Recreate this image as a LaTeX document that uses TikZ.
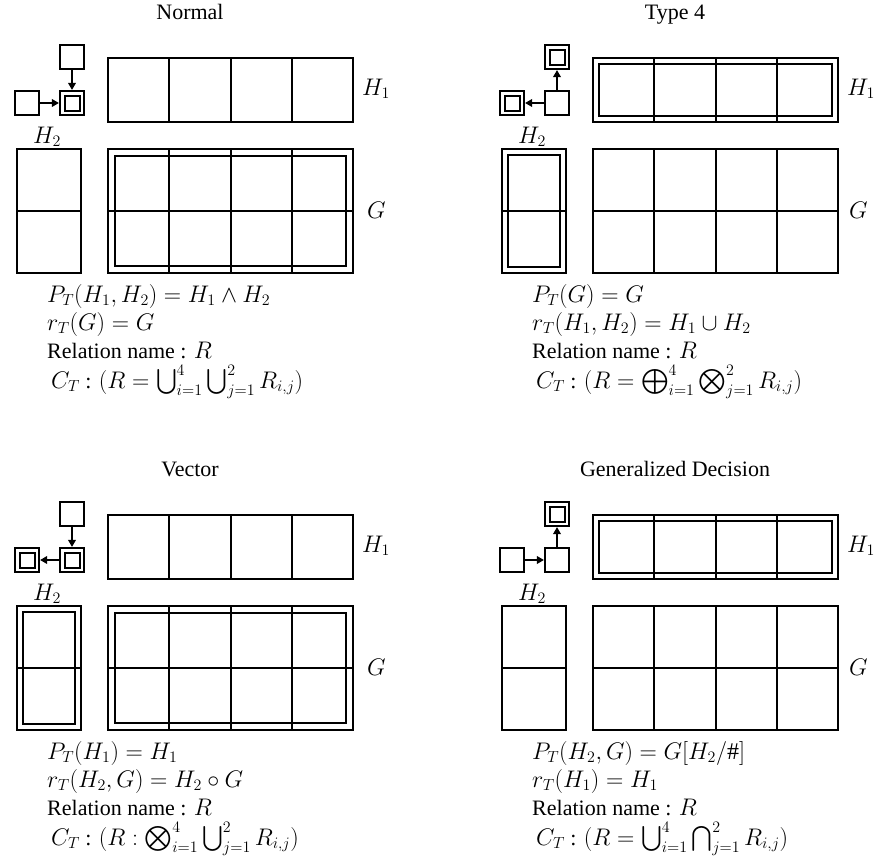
\documentclass[tikz,border=0pt]{standalone}
\usepackage{fix-cm}
\usepackage{amsmath}
\usepackage{exscale}
\usepackage{fontspec}
\setmainfont{Liberation Serif}
\DeclareMathSizes{22}{24}{16}{12}
\usetikzlibrary{arrows.meta}
\tikzset{
  ln/.style={line width=2.1pt},
  sq/.style={draw, line width=2.1pt, minimum width=24pt, minimum height=24pt, inner sep=0pt},
  isq/.style={draw, line width=2pt, minimum width=15pt, minimum height=15pt, inner sep=0pt},
  arr/.style={line width=2.1pt, -{Triangle[length=7pt,width=7.5pt]}},
  txt/.style={anchor=base west, inner sep=0pt, font=\fontsize{22}{26}\selectfont},
  ttl/.style={anchor=base, inner sep=0pt, font=\fontsize{22}{26}\selectfont},
}
\newcommand\mypanelgrid[3]{%
  \draw[ln] (108,58) rectangle (353,122);
  \foreach \xx in {169,231,292} {\draw[ln] (\xx,58) -- (\xx,122);}
  \ifnum#1=1 \draw[ln] (114,64) rectangle (347,116);\fi
  \draw[ln] (17,149) rectangle (81,273);
  \draw[ln] (17,211) -- (81,211);
  \ifnum#2=1 \draw[ln] (23,155) rectangle (75,267);\fi
  \draw[ln] (108,149) rectangle (353,273);
  \foreach \xx in {169,231,292} {\draw[ln] (\xx,149) -- (\xx,273);}
  \draw[ln] (108,211) -- (353,211);
  \ifnum#3=1 \draw[ln] (115,156) rectangle (346,266);\fi
}
\begin{document}
\begin{tikzpicture}[x=1pt,y=-1pt]
\useasboundingbox (0,0) rectangle (880,862);

% ---------- Normal ----------
\begin{scope}
  \node[ttl] (t1) at (190,19) {Normal};
  \mypanelgrid{0}{0}{1}
  \node[sq] (a1) at (72,57) {};
  \node[sq] (b1) at (72,103) {};
  \node[isq] (b1i) at (b1) {};
  \node[sq] (c1) at (27,103) {};
  \draw[arr] (a1) -- (b1);
  \draw[arr] (c1) -- (b1);
  \node[txt] (h1a) at (362,95) {$H_1$};
  \node[ttl] (h2a) at (47,143) {$H_2$};
  \node[txt] (ga) at (367,218) {$G$};
  \node[txt] (pa) at (47,302) {$P_T(H_1,H_2)=H_1\wedge H_2$};
  \node[txt] (ra) at (47,330) {$r_T(G)=G$};
  \node[txt] (na) at (47,358) {Relation name : $R$};
  \node[txt] (ca) at (51,388) {$C_T$ : $(R=\bigcup_{i=1}^4\bigcup_{j=1}^2R_{i,j})$};
\end{scope}

% ---------- Type 4 ----------
\begin{scope}[shift={(485,0)}]
  \node[ttl] (t2) at (190,19) {Type 4};
  \mypanelgrid{1}{1}{0}
  \node[sq] (a2) at (72,57) {};
  \node[isq] (a2i) at (a2) {};
  \node[sq] (b2) at (72,103) {};
  \node[sq] (c2) at (27,103) {};
  \node[isq] (c2i) at (c2) {};
  \draw[arr] (b2) -- (a2);
  \draw[arr] (b2) -- (c2);
  \node[txt] (h1b) at (362,95) {$H_1$};
  \node[ttl] (h2b) at (47,143) {$H_2$};
  \node[txt] (gb) at (364,218) {$G$};
  \node[txt] (pb) at (47,302) {$P_T(G)=G$};
  \node[txt] (rb) at (47,330) {$r_T(H_1,H_2)=H_1\cup H_2$};
  \node[txt] (nb) at (47,358) {Relation name : $R$};
  \node[txt] (cb) at (51,388) {$C_T$ : $(R=\bigoplus_{i=1}^4\bigotimes_{j=1}^2R_{i,j})$};
\end{scope}

% ---------- Vector ----------
\begin{scope}[shift={(0,457)}]
  \node[ttl] (t3) at (190,19) {Vector};
  \mypanelgrid{0}{1}{1}
  \node[sq] (a3) at (72,57) {};
  \node[sq] (b3) at (72,103) {};
  \node[isq] (b3i) at (b3) {};
  \node[sq] (c3) at (27,103) {};
  \node[isq] (c3i) at (c3) {};
  \draw[arr] (a3) -- (b3);
  \draw[arr] (b3) -- (c3);
  \node[txt] (h1c) at (362,95) {$H_1$};
  \node[ttl] (h2c) at (47,143) {$H_2$};
  \node[txt] (gc) at (367,218) {$G$};
  \node[txt] (pc) at (47,302) {$P_T(H_1)=H_1$};
  \node[txt] (rc) at (47,330) {$r_T(H_2,G)=H_2\circ G$};
  \node[txt] (nc) at (47,358) {Relation name : $R$};
  \node[txt] (cc) at (51,388) {$C_T$ : $(R:\bigotimes_{i=1}^4\bigcup_{j=1}^2R_{i,j})$};
\end{scope}

% ---------- Generalized Decision ----------
\begin{scope}[shift={(485,457)}]
  \node[ttl] (t4) at (190,19) {Generalized Decision};
  \mypanelgrid{1}{0}{0}
  \node[sq] (a4) at (72,57) {};
  \node[isq] (a4i) at (a4) {};
  \node[sq] (b4) at (72,103) {};
  \node[sq] (c4) at (27,103) {};
  \draw[arr] (b4) -- (a4);
  \draw[arr] (c4) -- (b4);
  \node[txt] (h1d) at (362,95) {$H_1$};
  \node[ttl] (h2d) at (47,143) {$H_2$};
  \node[txt] (gd) at (364,218) {$G$};
  \node[txt] (pd) at (47,302) {$P_T(H_2,G)=G[H_2/\#]$};
  \node[txt] (rd) at (47,330) {$r_T(H_1)=H_1$};
  \node[txt] (nd) at (47,358) {Relation name : $R$};
  \node[txt] (cd) at (51,388) {$C_T$ : $(R=\bigcup_{i=1}^4\bigcap_{j=1}^2R_{i,j})$};
\end{scope}
\end{tikzpicture}
\end{document}
